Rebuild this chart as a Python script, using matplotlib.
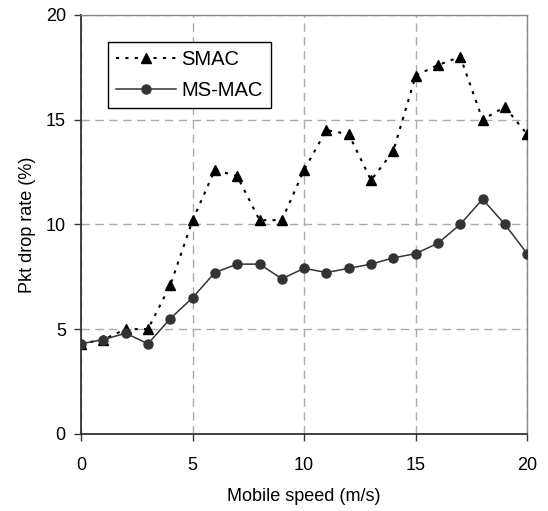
import matplotlib
matplotlib.use("Agg")
import matplotlib.pyplot as plt

speed = list(range(0, 21))
smac = [4.3, 4.5, 5.0, 5.0, 7.1, 10.2, 12.6, 12.3, 10.2, 10.2, 12.6,
        14.5, 14.3, 12.1, 13.5, 17.1, 17.6, 18.0, 15.0, 15.6, 14.3]
msmac = [4.3, 4.5, 4.8, 4.3, 5.5, 6.5, 7.7, 8.1, 8.1, 7.4, 7.9,
         7.7, 7.9, 8.1, 8.4, 8.6, 9.1, 10.0, 11.2, 10.0, 8.6]
xticks = [0, 5, 10, 15, 20]
yticks = [0, 5, 10, 15, 20]

plt.rcParams['font.family'] = ['Liberation Sans', 'DejaVu Sans']

fig = plt.figure(figsize=(5.48, 5.11), dpi=100)
ax = fig.add_axes([0.148, 0.151, 0.814, 0.820])

ax.plot(speed, smac, linestyle=(0, (1.5, 3)), color='black', linewidth=1.5,
        marker='^', markersize=7.5, markerfacecolor='black', markeredgecolor='black',
        label='SMAC', zorder=3)
ax.plot(speed, msmac, linestyle='-', color='#333333', linewidth=1.1,
        marker='o', markersize=6.5, markerfacecolor='#333333', markeredgecolor='#333333',
        label='MS-MAC', zorder=3)

ax.set_xlim(0, 20)
ax.set_ylim(0, 20)
ax.set_xticks(xticks)
ax.set_yticks(yticks)
ax.tick_params(axis='both', direction='out', length=5, width=1, colors='#333333',
               labelsize=13, labelcolor='black')
ax.tick_params(axis='x', pad=12)
ax.tick_params(axis='y', pad=6)
ax.grid(True, color='#aaaaaa', linestyle=(0, (6, 4)), linewidth=1)
ax.set_axisbelow(True)

for s in ['left', 'bottom']:
    ax.spines[s].set_color('#333333')
    ax.spines[s].set_linewidth(1.3)
for s in ['top', 'right']:
    ax.spines[s].set_color('#888888')
    ax.spines[s].set_linewidth(1.0)

ax.set_xlabel('Mobile speed (m/s)', fontsize=13, labelpad=10)
ax.set_ylabel('Pkt drop rate (%)', fontsize=13, labelpad=7)

leg = ax.legend(loc='upper left', bbox_to_anchor=(0.06, 0.936), fontsize=14.5,
                frameon=True, fancybox=False, edgecolor='black', framealpha=1,
                handlelength=3.0, borderpad=0.4, labelspacing=0.6, handletextpad=0.25,
                borderaxespad=0)
leg.get_frame().set_linewidth(1.0)

fig.savefig('out.png', dpi=100)
